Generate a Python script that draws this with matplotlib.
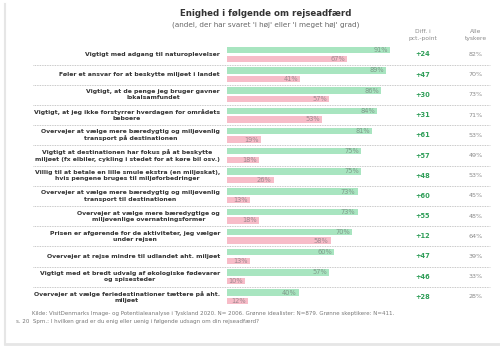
import matplotlib
matplotlib.use("Agg")
import matplotlib.pyplot as plt
from matplotlib.lines import Line2D

categories = [
    "Vigtigt med adgang til naturoplevelser",
    "Føler et ansvar for at beskytte miljøet i landet",
    "Vigtigt, at de penge jeg bruger gavner\nlokalsamfundet",
    "Vigtigt, at jeg ikke forstyrrer hverdagen for områdets\nbeboere",
    "Overvejer at vælge mere bæredygtig og miljøvenlig\ntransport på destinationen",
    "Vigtigt at destinationen har fokus på at beskytte\nmiljøet (fx elbiler, cykling i stedet for at køre bil osv.)",
    "Villig til at betale en lille smule ekstra (en miljøskat),\nhvis pengene bruges til miljøforbedringer",
    "Overvejer at vælge mere bæredygtig og miljøvenlig\ntransport til destinationen",
    "Overvejer at vælge mere bæredygtige og\nmiljøvenlige overnatningsformer",
    "Prisen er afgørende for de aktiviteter, jeg vælger\nunder rejsen",
    "Overvejer at rejse mindre til udlandet aht. miljøet",
    "Vigtigt med et bredt udvalg af økologiske fødevarer\nog spisesteder",
    "Overvejer at vælge feriedestinationer tættere på aht.\nmiljøet",
]
idealister = [91, 89, 86, 84, 81, 75, 75, 73, 73, 70, 60, 57, 40]
skeptikere = [67, 41, 57, 53, 19, 18, 26, 13, 18, 58, 13, 10, 12]
diff = [24, 47, 30, 31, 61, 57, 48, 60, 55, 12, 47, 46, 28]
alle = [82, 70, 73, 71, 53, 49, 53, 45, 48, 64, 39, 33, 28]

W, H = 500, 352
fig = plt.figure(figsize=(W / 100, H / 100), dpi=100)
fig.patch.set_facecolor("white")

# pixel geometry
x0_px, px_per = 227.0, 1.79
row0_px, row_px = 54.5, 20.2
ax = fig.add_axes([0, 0, 1, 1])
ax.set_xlim(-x0_px / px_per, (W - x0_px) / px_per)
ax.set_ylim((H - row0_px) / row_px, -row0_px / row_px)
ax.axis("off")

def px2x(p):
    return (p - x0_px) / px_per

green = "#a8e5c0"
pink = "#f7bcc8"
n = len(categories)
ys = list(range(n))
off, bh = 0.21, 0.32
ax.barh([y - off for y in ys], idealister, height=bh, color=green, zorder=2)
ax.barh([y + off for y in ys], skeptikere, height=bh, color=pink, zorder=2)

fam = ["DejaVu Sans"]
for i in range(n):
    ax.text(idealister[i] - 1.2, i - off, f"{idealister[i]}%", ha="right", va="center",
            fontsize=4.8, color="#7f9a8a", family=fam, zorder=3)
    ax.text(skeptikere[i] - 1.2, i + off, f"{skeptikere[i]}%", ha="right", va="center",
            fontsize=4.8, color="#a08890", family=fam, zorder=3)
    ax.text(px2x(220), i, categories[i], ha="right", va="center", multialignment="center",
            fontsize=4.45, fontweight="bold", color="#333333", family=fam, linespacing=1.3)
    ax.text(px2x(423), i, f"+{diff[i]}", ha="center", va="center", fontsize=4.8,
            fontweight="bold", color="#2f9e58", family=fam)
    ax.text(px2x(476), i, f"{alle[i]}%", ha="center", va="center", fontsize=4.6,
            color="#8a8a8a", family=fam)
    if i < n - 1:
        ax.plot([px2x(33), px2x(490)], [i + 0.5, i + 0.5], color="#b5b5b5", lw=0.6,
                linestyle=(0, (1, 1)), zorder=1)

# headers
fig.text(266 / W, 1 - 13 / H, "Enighed i følgende om rejseadfærd", ha="center", va="center",
         fontsize=6.2, fontweight="bold", color="#333333", family=fam)
fig.text(266 / W, 1 - 25 / H, "(andel, der har svaret 'i høj' eller 'i meget høj' grad)",
         ha="center", va="center", fontsize=5.2, color="#666666", family=fam)
fig.text(423 / W, 1 - 35 / H, "Diff. i\npct.-point", ha="center", va="center",
         fontsize=4.3, color="#8a8a8a", family=fam, linespacing=1.3)
fig.text(476 / W, 1 - 35 / H, "Alle\ntyskere", ha="center", va="center",
         fontsize=4.3, color="#8a8a8a", family=fam, linespacing=1.3)

# footer
fig.text(32 / W, 1 - 314 / H,
         "Kilde: VisitDenmarks Image- og Potentialeanalyse i Tyskland 2020. N= 2006. Grønne idealister: N=879. Grønne skeptikere: N=411.",
         ha="left", va="center", fontsize=4.0, color="#777777", family=fam)
fig.text(16 / W, 1 - 322 / H,
         "s. 20  Spm.: I hvilken grad er du enig eller uenig i følgende udsagn om din rejseadfærd?",
         ha="left", va="center", fontsize=4.0, color="#777777", family=fam)

# card border
fig.add_artist(Line2D([5 / W, 5 / W], [1 - 4 / H, 1 - 344 / H], color="#e6e6e6", lw=1.5))
fig.add_artist(Line2D([5 / W, 1], [1 - 344 / H, 1 - 344 / H], color="#e6e6e6", lw=2))

fig.savefig("out.png", dpi=100, facecolor="white")
